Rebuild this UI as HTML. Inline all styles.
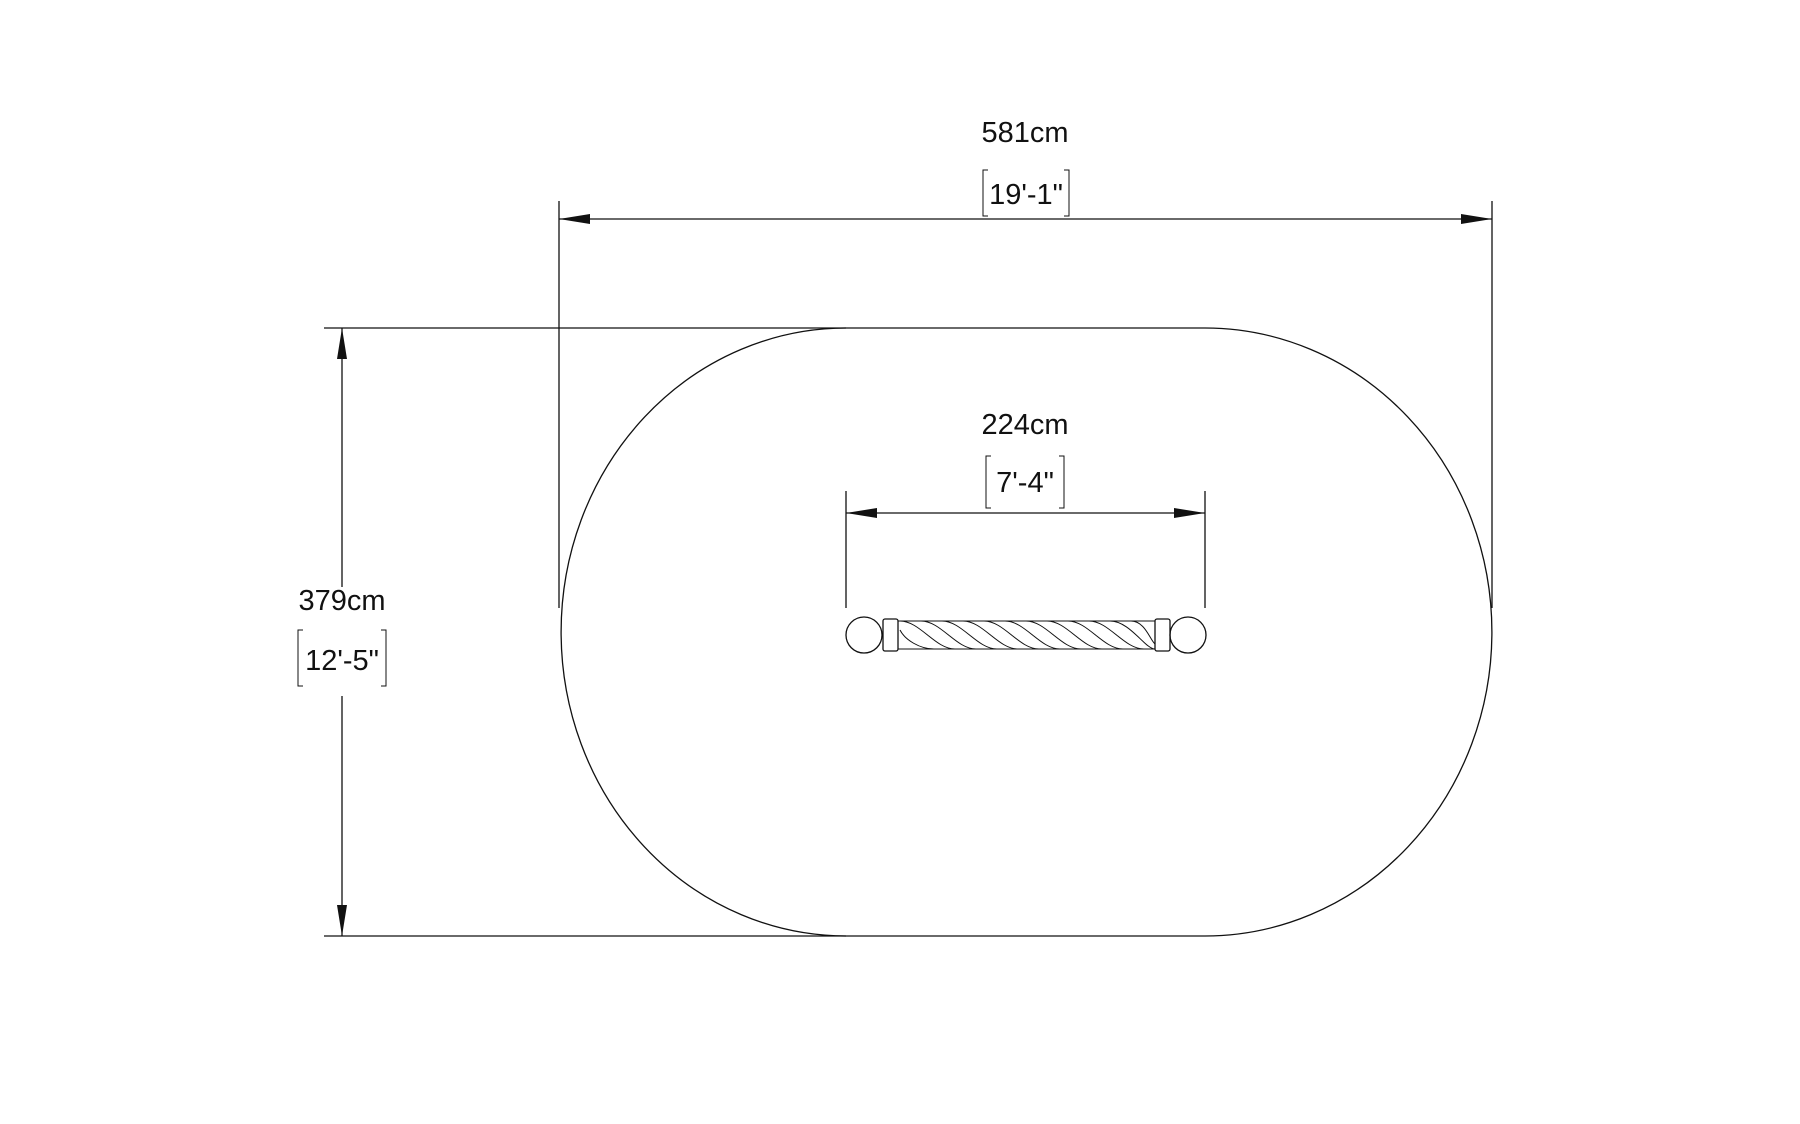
<!DOCTYPE html>
<html><head><meta charset="utf-8"><style>
html,body{margin:0;padding:0;background:#fff;}
svg{display:block}
text{font-family:"Liberation Sans",sans-serif;font-size:29px;fill:#111;text-anchor:middle}
</style></head><body>
<svg width="1800" height="1124" viewBox="0 0 1800 1124" xmlns="http://www.w3.org/2000/svg">
<g stroke="#111" stroke-width="1.3" fill="none">
<path d="M846 328 L1205 328 A287 304 0 0 1 1205 936 L846 936 A285 304 0 0 1 846 328 Z"/>
<line x1="559" y1="201" x2="559" y2="608"/>
<line x1="1492" y1="201" x2="1492" y2="608"/>
<line x1="559" y1="219" x2="1492" y2="219"/>
<line x1="324" y1="328" x2="846" y2="328"/>
<line x1="324" y1="936" x2="846" y2="936"/>
<line x1="342" y1="328" x2="342" y2="587"/>
<line x1="342" y1="696" x2="342" y2="936"/>
<line x1="846" y1="491" x2="846" y2="608"/>
<line x1="1205" y1="491" x2="1205" y2="608"/>
<line x1="846" y1="513" x2="1205" y2="513"/>
<path d="M988 170 h-5 v46 h5 M1064 170 h5 v46 h-5" stroke-width="1"/>
<path d="M991 456 h-5 v52 h5 M1059 456 h5 v52 h-5" stroke-width="1"/>
<path d="M303 630 h-5 v56 h5 M381 630 h5 v56 h-5" stroke-width="1"/>
<circle cx="864" cy="635" r="18"/>
<circle cx="1188" cy="635" r="18"/>
<rect x="883" y="619" width="15" height="32" rx="2"/>
<rect x="1155" y="619" width="15" height="32" rx="2"/>
<path d="M898 621 L1155 621 M898 649 L1155 649" stroke-width="1"/>
<path stroke-width="1" d="M900 621 C920 621 935 649 955 649 M921 621 C941 621 956 649 976 649 M942 621 C962 621 977 649 997 649 M963 621 C983 621 998 649 1018 649 M984 621 C1004 621 1019 649 1039 649 M1005 621 C1025 621 1040 649 1060 649 M1026 621 C1046 621 1061 649 1081 649 M1047 621 C1067 621 1082 649 1102 649 M1068 621 C1088 621 1103 649 1123 649 M1089 621 C1109 621 1124 649 1144 649 M1110 621 C1130 621 1145 649 1155 649 M1131 621 C1145 621 1150 640 1155 644 M900 630 C905 640 920 649 934 649"/>
</g>
<g fill="#111">
<polygon points="559,219 590,214 590,224"/>
<polygon points="1492,219 1461,214 1461,224"/>
<polygon points="846,513 877,508 877,518"/>
<polygon points="1205,513 1174,508 1174,518"/>
<polygon points="342,328 337,359 347,359"/>
<polygon points="342,936 337,905 347,905"/>
</g>
<text x="1025" y="142">581cm</text>
<text x="1026" y="204">19'-1"</text>
<text x="1025" y="434">224cm</text>
<text x="1025" y="492">7'-4"</text>
<text x="342" y="610">379cm</text>
<text x="342" y="670">12'-5"</text>
</svg>
</body></html>
